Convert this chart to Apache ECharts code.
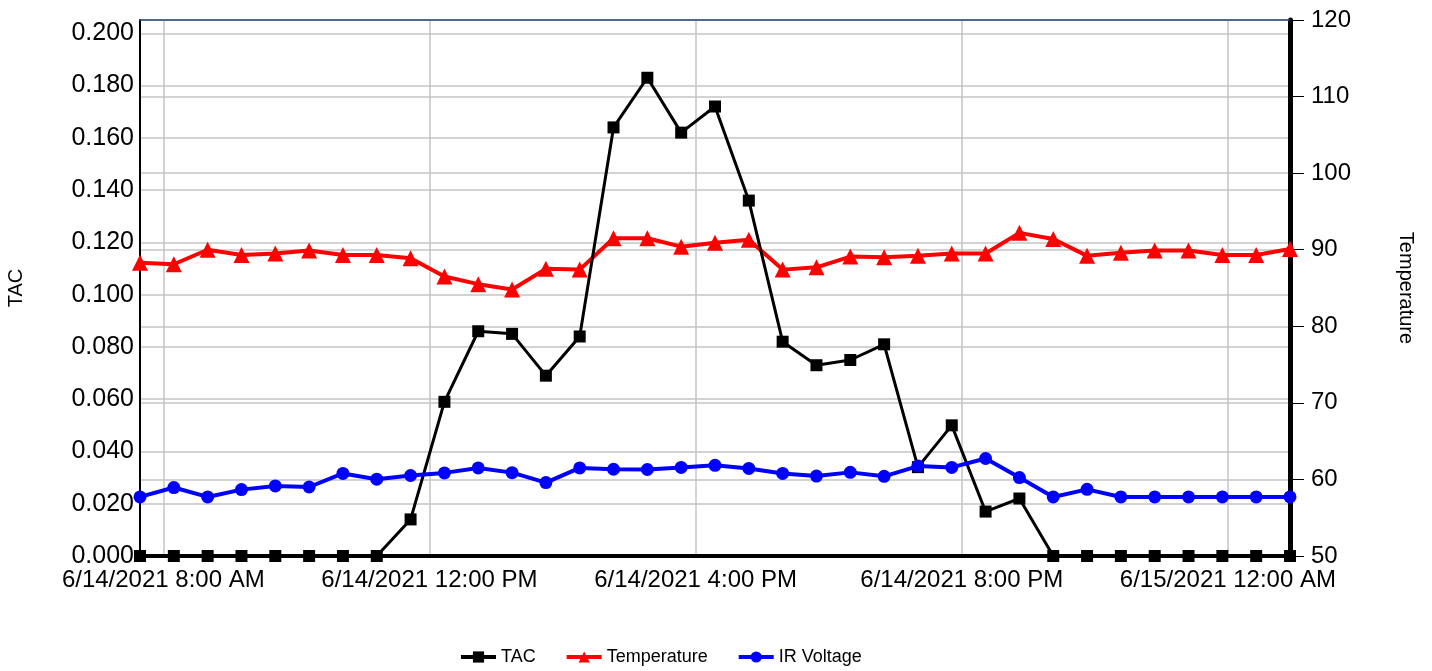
<!DOCTYPE html>
<html>
<head>
<meta charset="utf-8">
<script src="https://cdn.jsdelivr.net/npm/echarts@6/dist/echarts.min.js"></script>
<style>
html,body{margin:0;padding:0;background:#fff;}
#chart{width:1432px;height:671px;}
</style>
</head>
<body>
<div id="chart"></div>
<script>
// Sample times (local time)
const times = [
  '2021-06-14 07:39:00','2021-06-14 08:09:30','2021-06-14 08:40:00','2021-06-14 09:10:30',
  '2021-06-14 09:41:00','2021-06-14 10:11:30','2021-06-14 10:42:00','2021-06-14 11:12:30',
  '2021-06-14 11:43:00','2021-06-14 12:13:30','2021-06-14 12:44:00','2021-06-14 13:14:30',
  '2021-06-14 13:45:00','2021-06-14 14:15:30','2021-06-14 14:46:00','2021-06-14 15:16:30',
  '2021-06-14 15:47:00','2021-06-14 16:17:30','2021-06-14 16:48:00','2021-06-14 17:18:30',
  '2021-06-14 17:49:00','2021-06-14 18:19:30','2021-06-14 18:50:00','2021-06-14 19:20:30',
  '2021-06-14 19:51:00','2021-06-14 20:21:30','2021-06-14 20:52:00','2021-06-14 21:22:30',
  '2021-06-14 21:53:00','2021-06-14 22:23:30','2021-06-14 22:54:00','2021-06-14 23:24:30',
  '2021-06-14 23:55:00','2021-06-15 00:25:30','2021-06-15 00:56:00'
];
const tac = [0,0,0,0,0,0,0,0,0.014,0.059,0.086,0.085,0.069,0.084,0.164,0.183,0.162,0.172,0.136,
  0.082,0.073,0.075,0.081,0.034,0.050,0.017,0.022,0,0,0,0,0,0,0,0];
const temperature = [88.3,88.1,90.0,89.3,89.5,89.9,89.3,89.3,88.9,86.5,85.5,84.8,87.5,87.4,91.5,91.5,
  90.4,90.9,91.3,87.4,87.7,89.1,89.0,89.2,89.5,89.5,92.2,91.4,89.2,89.6,89.9,89.9,89.3,89.3,90.1];
const irVoltage = [0.0226,0.0262,0.0226,0.0254,0.0268,0.0264,0.0316,0.0294,0.0308,0.0318,0.0337,0.0319,
  0.0281,0.0337,0.0332,0.0331,0.0339,0.0347,0.0335,0.0316,0.0306,0.0320,0.0305,0.0344,0.0339,0.0373,
  0.0300,0.0226,0.0255,0.0226,0.0226,0.0226,0.0226,0.0226,0.0226];
const seriesNames = ['TAC','Temperature','IR Voltage'];

const FONT = '"Liberation Sans", Arial, sans-serif';
const GRID_COLOR = '#c4c4c4';

function fmtTime(v){
  const d = new Date(v);
  const h = d.getHours(), mi = d.getMinutes();
  if (mi !== 0 || d.getSeconds() !== 0 || h % 4 !== 0) return '';
  const ampm = h < 12 ? 'AM' : 'PM';
  const h12 = h % 12 === 0 ? 12 : h % 12;
  return (d.getMonth()+1) + '/' + d.getDate() + '/' + d.getFullYear() + ' ' + h12 + ':' + (mi<10?'0':'') + mi + ' ' + ampm;
}

const chart = echarts.init(document.getElementById('chart'), null, {renderer:'canvas'});
const option = {
  animation: false,
  backgroundColor: '#ffffff',
  textStyle: {fontFamily: FONT, color: '#000'},
  grid: {left: 140, right: 142, top: 20, bottom: 115, containLabel: false, outerBoundsMode: 'none'},
  legend: {
    data: seriesNames,
    left: 459, top: 648, padding: 0,
    itemWidth: 35, itemHeight: 14, itemGap: 29,
    lineStyle: {width: 4},
    textStyle: {fontSize: 18, color: '#000', fontFamily: FONT}
  },
  xAxis: [{
    type: 'time',
    min: times[0], max: times[times.length-1],
    minInterval: 4*3600*1000, maxInterval: 4*3600*1000,
    position: 'bottom',
    axisLine: {show: true, onZero: false, lineStyle: {color: '#000', width: 4}},
    axisTick: {show: false},
    axisLabel: {fontSize: 24, color: '#000', fontFamily: FONT, margin: 12, formatter: fmtTime, hideOverlap: false},
    splitLine: {show: true, lineStyle: {color: GRID_COLOR, width: 1.5}}
  }, {
    type: 'time',
    min: times[0], max: times[times.length-1],
    position: 'top',
    axisLine: {show: true, onZero: false, lineStyle: {color: '#2a4a7f', width: 1.5}},
    axisTick: {show: false},
    axisLabel: {show: false},
    splitLine: {show: false}
  }],
  yAxis: [{
    type: 'value',
    name: 'TAC', nameLocation: 'middle', nameGap: 114,
    nameTextStyle: {fontSize: 20, color: '#000', fontFamily: FONT},
    min: 0, max: 0.2051, interval: 0.02,
    position: 'left',
    axisLine: {show: true, onZero: false, lineStyle: {color: '#000', width: 2}},
    axisTick: {show: false},
    axisLabel: {fontSize: 25, color: '#000', fontFamily: FONT, margin: 6,
      formatter: function(v){ const k = v/0.02; return Math.abs(k - Math.round(k)) > 1e-6 ? '' : v.toFixed(3); }},
    splitLine: {show: true, lineStyle: {color: GRID_COLOR, width: 1.5}}
  }, {
    type: 'value',
    name: 'Temperature', nameLocation: 'middle', nameGap: 106, nameRotate: -90,
    nameTextStyle: {fontSize: 20, color: '#000', fontFamily: FONT},
    min: 50, max: 120, interval: 10,
    position: 'right',
    axisLine: {show: true, onZero: false, lineStyle: {color: '#000', width: 5}},
    axisTick: {show: true, inside: false, length: 14, lineStyle: {color: '#000', width: 1}},
    axisLabel: {fontSize: 24, color: '#000', fontFamily: FONT, margin: 21},
    splitLine: {show: true, lineStyle: {color: GRID_COLOR, width: 1.5}}
  }],
  series: [{
    name: 'TAC', type: 'line', xAxisIndex: 0, yAxisIndex: 0, z: 3,
    data: times.map((t,i)=>[t, tac[i]]),
    symbol: 'rect', symbolSize: 12, showAllSymbol: true,
    lineStyle: {color: '#000', width: 3},
    itemStyle: {color: '#000'}
  }, {
    name: 'Temperature', type: 'line', xAxisIndex: 0, yAxisIndex: 1, z: 2,
    data: times.map((t,i)=>[t, temperature[i]]),
    symbol: 'triangle', symbolSize: 16, showAllSymbol: true,
    lineStyle: {color: '#ff0000', width: 4},
    itemStyle: {color: '#ff0000'}
  }, {
    name: 'IR Voltage', type: 'line', xAxisIndex: 0, yAxisIndex: 0, z: 4,
    data: times.map((t,i)=>[t, irVoltage[i]]),
    symbol: 'circle', symbolSize: 13, showAllSymbol: true,
    lineStyle: {color: '#0000ff', width: 4},
    itemStyle: {color: '#0000ff'}
  }]
};
chart.setOption(option);
</script>
</body>
</html>
